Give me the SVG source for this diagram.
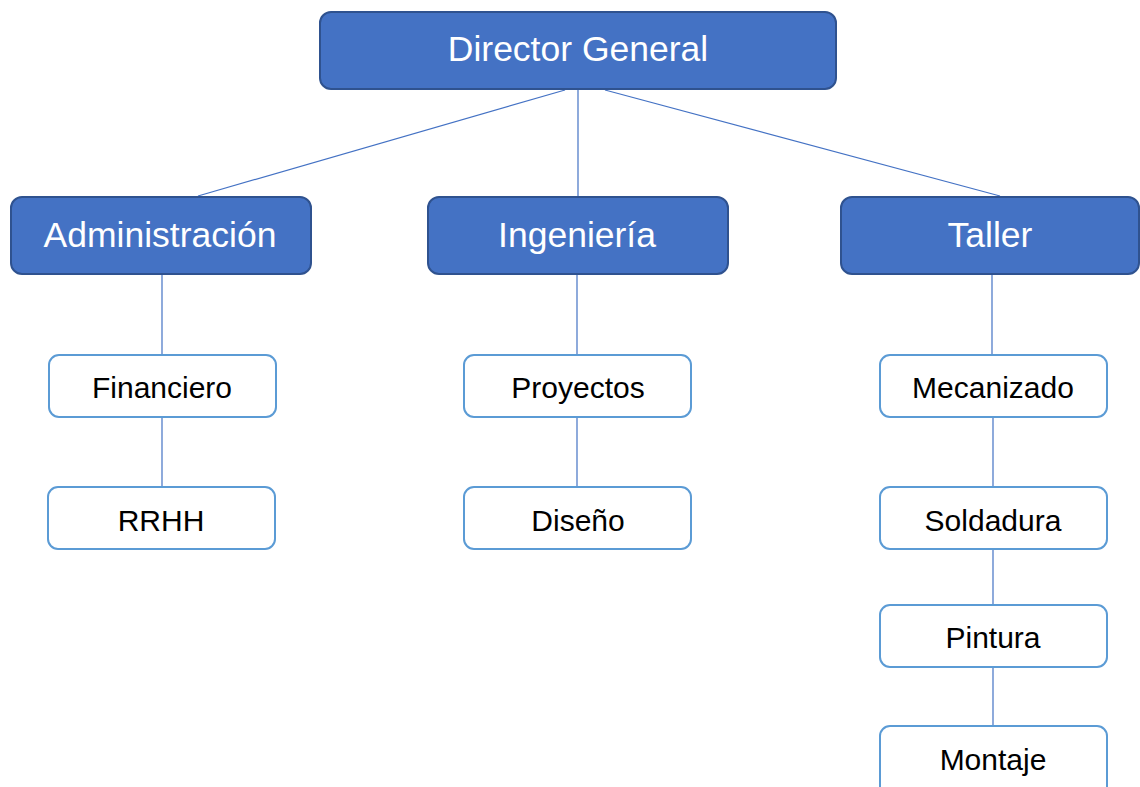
<svg xmlns="http://www.w3.org/2000/svg" width="1140" height="787" viewBox="0 0 1140 787">
  <style>
    .head rect { fill: #4472C4; stroke: #2F528F; stroke-width: 2; }
    .head text { fill: #FFFFFF; font-family: "Liberation Sans", Arial, sans-serif; font-size: 35.5px; text-anchor: middle; }
    .unit rect { fill: #FFFFFF; stroke: #5B9BD5; stroke-width: 2; }
    .unit text { fill: #000000; font-family: "Liberation Sans", Arial, sans-serif; font-size: 30px; text-anchor: middle; }
    .links line { stroke: #4472C4; stroke-width: 1.2; }
  </style>
  <rect width="1140" height="787" fill="#FFFFFF"/>

  <g id="connectors" class="links">
    <line x1="565" y1="90" x2="198" y2="196"/>
    <line x1="578" y1="90" x2="578" y2="197"/>
    <line x1="605" y1="90" x2="1000" y2="196"/>
    <line x1="162" y1="275" x2="162" y2="355"/>
    <line x1="162" y1="417" x2="162" y2="487"/>
    <line x1="577" y1="275" x2="577" y2="355"/>
    <line x1="577" y1="417" x2="577" y2="487"/>
    <line x1="992" y1="275" x2="992" y2="355"/>
    <line x1="993" y1="417" x2="993" y2="487"/>
    <line x1="993" y1="549" x2="993" y2="605"/>
    <line x1="993" y1="667" x2="993" y2="726"/>
  </g>

  <g id="director-general" class="head">
    <rect x="320" y="12" width="516" height="77" rx="11"/>
    <text x="578" y="61">Director General</text>
  </g>
  <g id="administracion" class="head">
    <rect x="11" y="197" width="300" height="77" rx="11"/>
    <text x="160" y="247">Administración</text>
  </g>
  <g id="ingenieria" class="head">
    <rect x="428" y="197" width="300" height="77" rx="11"/>
    <text x="577" y="247">Ingeniería</text>
  </g>
  <g id="taller" class="head">
    <rect x="841" y="197" width="298" height="77" rx="11"/>
    <text x="990" y="247">Taller</text>
  </g>

  <g id="financiero" class="unit">
    <rect x="49" y="355" width="227" height="62" rx="10"/>
    <text x="162" y="398">Financiero</text>
  </g>
  <g id="rrhh" class="unit">
    <rect x="48" y="487" width="227" height="62" rx="10"/>
    <text x="161" y="531">RRHH</text>
  </g>
  <g id="proyectos" class="unit">
    <rect x="464" y="355" width="227" height="62" rx="10"/>
    <text x="578" y="398">Proyectos</text>
  </g>
  <g id="diseno" class="unit">
    <rect x="464" y="487" width="227" height="62" rx="10"/>
    <text x="578" y="531">Diseño</text>
  </g>
  <g id="mecanizado" class="unit">
    <rect x="880" y="355" width="227" height="62" rx="10"/>
    <text x="993" y="398">Mecanizado</text>
  </g>
  <g id="soldadura" class="unit">
    <rect x="880" y="487" width="227" height="62" rx="10"/>
    <text x="993" y="531">Soldadura</text>
  </g>
  <g id="pintura" class="unit">
    <rect x="880" y="605" width="227" height="62" rx="10"/>
    <text x="993" y="648">Pintura</text>
  </g>
  <g id="montaje" class="unit">
    <rect x="880" y="726" width="227" height="70" rx="10"/>
    <text x="993" y="770">Montaje</text>
  </g>
</svg>
